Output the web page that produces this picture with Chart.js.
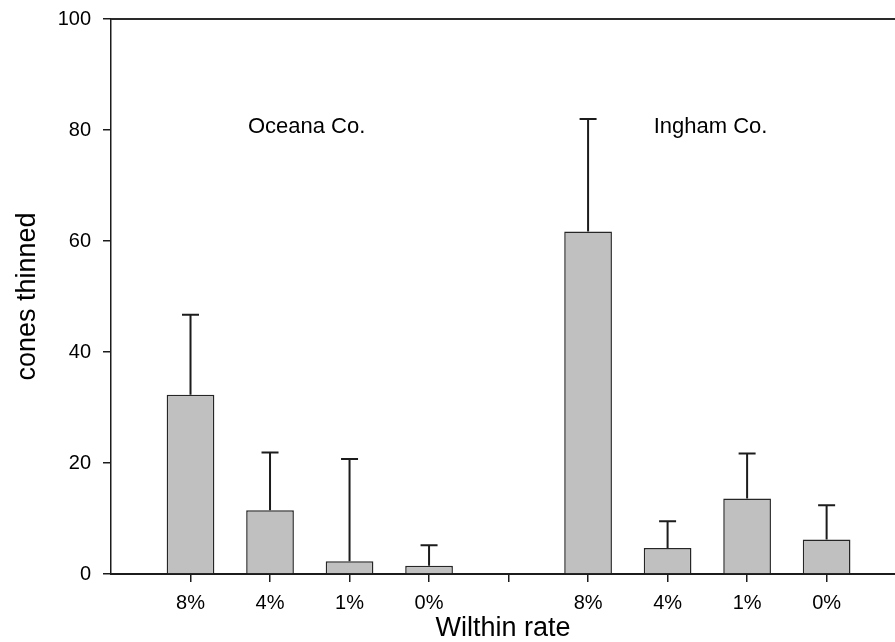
<!DOCTYPE html>
<html><head><meta charset="utf-8">
<script src="https://cdn.jsdelivr.net/npm/chart.js@4.4.1/dist/chart.umd.min.js"></script>
<style>html,body{margin:0;padding:0;background:#fff;overflow:hidden}#wrap{width:895px;height:642px;position:relative}</style>
</head><body><div id="wrap"><canvas id="c"></canvas></div>
<script>
// ---- data ----
const categories = ['8%', '4%', '1%', '0%', '', '8%', '4%', '1%', '0%'];
const meanValues = [32.3, 11.5, 2.3, 1.5, null, 61.7, 4.7, 13.6, 6.2];
const errorValues = [14.4, 10.4, 18.4, 3.7, null, 20.3, 4.8, 8.1, 6.2];
const groupNames = ['Oceana Co.', 'Ingham Co.'];
const yTicks = [0, 20, 40, 60, 80, 100];
const xTitle = 'Wilthin rate';
const yTitle = 'cones thinned';

const FONT = '"Liberation Sans", Arial, sans-serif';
const INK = '#1c1c1c';

const points = [];
const errs = [];
categories.forEach((c, i) => {
  if (meanValues[i] !== null) { points.push({ x: i + 1, y: meanValues[i] }); errs.push(errorValues[i]); }
});

const errorBarPlugin = {
  id: 'errorBars',
  afterDatasetsDraw(chart) {
    const ctx = chart.ctx, ys = chart.scales.y;
    const meta = chart.getDatasetMeta(0);
    ctx.save();
    ctx.strokeStyle = INK; ctx.lineWidth = 2;
    meta.data.forEach((el, i) => {
      const top = ys.getPixelForValue(points[i].y + errs[i]);
      ctx.beginPath();
      ctx.moveTo(el.x, el.y); ctx.lineTo(el.x, top);
      ctx.moveTo(el.x - 8.5, top); ctx.lineTo(el.x + 8.5, top);
      ctx.stroke();
    });
    ctx.restore();
  }
};

const framePlugin = {
  id: 'frame',
  afterDraw(chart) {
    const ctx = chart.ctx, a = chart.chartArea;
    const xs = chart.scales.x, ys = chart.scales.y;
    ctx.save();
    ctx.strokeStyle = '#2a2a2a'; ctx.lineWidth = 2;
    ctx.beginPath(); ctx.moveTo(a.left, a.top); ctx.lineTo(a.right, a.top); ctx.stroke();
    ctx.fillStyle = '#000';
    ctx.font = '22px ' + FONT;
    ctx.textAlign = 'center'; ctx.textBaseline = 'middle';
    ctx.fillText(groupNames[0], xs.getPixelForValue(2.46), ys.getPixelForValue(80.6));
    ctx.fillText(groupNames[1], xs.getPixelForValue(7.54), ys.getPixelForValue(80.6));
    ctx.restore();
  }
};

new Chart(document.getElementById('c'), {
  type: 'bar',
  data: {
    datasets: [{
      data: points,
      backgroundColor: '#c0c0c0',
      borderColor: '#262626',
      borderWidth: 1.5,
      barPercentage: 0.6,
      categoryPercentage: 1.0
    }]
  },
  options: {
    responsive: true,
    maintainAspectRatio: false,
    animation: false,
    layout: { padding: { top: 19, right: 0, left: 0, bottom: 0 } },
    plugins: { legend: { display: false }, tooltip: { enabled: false } },
    scales: {
      x: {
        type: 'linear',
        offset: false,
        min: 0, max: 9.86,
        afterBuildTicks: (s) => { s.ticks = categories.map((c, i) => ({ value: i + 1 })); },
        afterFit: (s) => { s.height = 68; s.paddingLeft = 0; s.paddingRight = 0; },
        ticks: {
          autoSkip: false, maxRotation: 0, padding: 9,
          color: '#000', font: { family: FONT, size: 20 },
          callback: (v, i) => categories[i]
        },
        grid: { offset: false, drawOnChartArea: false, drawTicks: true, tickLength: 8, color: INK, lineWidth: 1.5 },
        border: { display: true, color: INK, width: 2 },
        title: { display: true, text: xTitle, color: '#000', font: { family: FONT, size: 27 }, padding: { top: 0, bottom: -3 } }
      },
      y: {
        min: 0, max: 100,
        afterBuildTicks: (s) => { s.ticks = yTicks.map(v => ({ value: v })); },
        afterFit: (s) => { s.width = 111; s.paddingTop = 0; s.paddingBottom = 0; },
        ticks: { padding: 12, color: '#000', font: { family: FONT, size: 20 } },
        grid: { drawOnChartArea: false, drawTicks: true, tickLength: 8, color: INK, lineWidth: 1.5 },
        border: { display: true, color: INK, width: 1.5 },
        title: { display: true, text: yTitle, color: '#000', font: { family: FONT, size: 27 }, padding: { top: 11, bottom: 0 } }
      }
    }
  },
  plugins: [errorBarPlugin, framePlugin]
});
</script>
</body></html>
